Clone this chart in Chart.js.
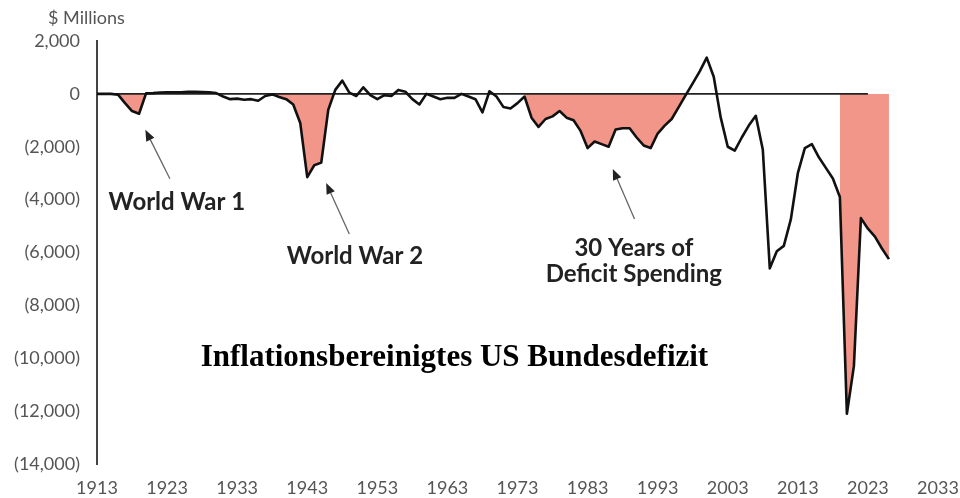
<!DOCTYPE html>
<html>
<head>
<meta charset="utf-8">
<script src="https://cdn.jsdelivr.net/npm/chart.js@4.4.0/dist/chart.umd.min.js"></script>
<style>
    html, body { margin: 0; padding: 0; background: #fff; }
</style>
</head>
<body>
<canvas id="deficitChart" width="960" height="498"></canvas>
<script>
// inflation adjusted federal deficit, $ millions, one value per year from 1913
var startYear = 1913;
var deficit = [
    0, 0, 0, -30, -350, -650, -750, 20, 30, 50,               // 1913-1922
    60, 60, 60, 80, 80, 70, 60, 30, -100, -200,               // 1923-1932
    -180, -220, -200, -260, -80, -20, -120, -200, -400, -1100, // 1933-1942
    -3150, -2700, -2600, -600, 150, 500, 50, -80, 250, -50,   // 1943-1952
    -200, -50, -80, 150, 80, -200, -400, 0, -100, -200,       // 1953-1962
    -150, -150, 0, -100, -200, -700, 100, -100, -500, -550,   // 1963-1972
    -350, -100, -900, -1250, -950, -850, -650, -900, -1000, -1400, // 1973-1982
    -2050, -1800, -1900, -2000, -1350, -1300, -1300, -1650, -1950, -2050, // 1983-1992
    -1500, -1200, -950, -500, -50, 400, 850, 1370, 650, -900, // 1993-2002
    -2000, -2150, -1650, -1200, -830, -2100, -6600, -5950, -5750, -4750, // 2003-2012
    -3000, -2050, -1900, -2400, -2800, -3200, -3900, -12100, -10300, -4700, // 2013-2022
    -5100, -5400, -5850, -6250                                // 2023-2026
];
var years = deficit.map(function (v, i) { return startYear + i; });

// shaded periods (first year, last year)
var shadedPeriods = [[1916, 1920], [1938, 1948], [1974, 1998], [2019, 2026]];

// axis ticks
var xTicks = [1913, 1923, 1933, 1943, 1953, 1963, 1973, 1983, 1993, 2003, 2013, 2023, 2033];
var yMin = -14000, yMax = 2000, yStep = 2000;
var zeroLineEnd = 2023;

var pink = '#f3968a';

// texts and arrows, placed in data units (year, $ millions)
var notes = [
    { lines: ['World War 1'], x: 1924.4, y: -4390 },
    { lines: ['World War 2'], x: 1949.8, y: -6420 },
    { lines: ['30 Years of', 'Deficit Spending'], x: 1989.6, y: -6130 }
];
var arrows = [
    { from: [1923.4, -3210], to: [1919.9, -1360] },
    { from: [1949.0, -5300], to: [1945.7, -3370] },
    { from: [1989.7, -4730], to: [1986.6, -2840] }
];

function toPoints(fromYear, toYear) {
    var pts = [];
    years.forEach(function (yr, i) {
        if (yr >= fromYear && yr <= toYear) {
            pts.push({ x: yr, y: deficit[i] });
        }
    });
    return pts;
}

function formatMillions(v) {
    var s = Math.abs(v).toLocaleString('en-US');
    return v < 0 ? '(' + s + ')' : s;
}

var datasets = [];
// the deficit curve on top
datasets.push({
    data: toPoints(startYear, 2100),
    borderColor: '#111',
    borderWidth: 2.6,
    pointRadius: 0,
    borderJoinStyle: 'round',
    fill: false,
    order: 0
});
// zero line
datasets.push({
    data: [{ x: startYear, y: 0 }, { x: zeroLineEnd, y: 0 }],
    borderColor: '#222',
    borderWidth: 1.6,
    pointRadius: 0,
    fill: false,
    order: 1
});
// shaded deficit periods, only below zero
shadedPeriods.forEach(function (p) {
    datasets.push({
        data: toPoints(p[0], p[1]),
        borderWidth: 0,
        borderColor: 'rgba(0,0,0,0)',
        pointRadius: 0,
        fill: { target: 'origin', above: 'rgba(0,0,0,0)', below: pink },
        order: 2
    });
});

var notesPlugin = {
    id: 'notes',
    afterDraw: function (chart) {
        var ctx = chart.ctx;
        var xs = chart.scales.x, ys = chart.scales.y;
        ctx.save();

        // unit label
        ctx.fillStyle = '#555';
        ctx.font = '18px Lato';
        ctx.textAlign = 'left';
        ctx.textBaseline = 'middle';
        ctx.fillText('$ Millions', 48, 18);

        // arrows
        arrows.forEach(function (a) {
            var x1 = xs.getPixelForValue(a.from[0]), y1 = ys.getPixelForValue(a.from[1]);
            var x2 = xs.getPixelForValue(a.to[0]), y2 = ys.getPixelForValue(a.to[1]);
            var ang = Math.atan2(y2 - y1, x2 - x1);
            var headLen = 11, headW = 4.5;
            ctx.strokeStyle = '#666';
            ctx.lineWidth = 1.3;
            ctx.beginPath();
            ctx.moveTo(x1, y1);
            ctx.lineTo(x2 - Math.cos(ang) * headLen, y2 - Math.sin(ang) * headLen);
            ctx.stroke();
            ctx.fillStyle = '#222';
            ctx.beginPath();
            ctx.moveTo(x2, y2);
            ctx.lineTo(x2 - Math.cos(ang) * headLen - Math.sin(ang) * headW, y2 - Math.sin(ang) * headLen + Math.cos(ang) * headW);
            ctx.lineTo(x2 - Math.cos(ang) * headLen + Math.sin(ang) * headW, y2 - Math.sin(ang) * headLen - Math.cos(ang) * headW);
            ctx.closePath();
            ctx.fill();
        });

        // annotation texts
        ctx.fillStyle = '#222';
        ctx.font = 'bold 24px Lato';
        ctx.textAlign = 'center';
        ctx.textBaseline = 'alphabetic';
        notes.forEach(function (n) {
            var px = xs.getPixelForValue(n.x), py = ys.getPixelForValue(n.y);
            n.lines.forEach(function (line, k) {
                ctx.fillText(line, px, py + k * 26);
            });
        });

        // chart title
        ctx.fillStyle = '#000';
        ctx.font = 'bold 31px "Liberation Serif"';
        ctx.textBaseline = 'middle';
        ctx.fillText('Inflationsbereinigtes US Bundesdefizit', xs.getPixelForValue(1964), ys.getPixelForValue(-10000));

        ctx.restore();
    }
};

Chart.defaults.font.family = 'Lato';

var ctx = document.getElementById('deficitChart').getContext('2d');
var deficitChart = new Chart(ctx, {
    type: 'line',
    data: { datasets: datasets },
    options: {
        responsive: false,
        animation: false,
        devicePixelRatio: 1,
        layout: { padding: { left: 0, top: 41, right: 22, bottom: 0 } },
        plugins: {
            legend: { display: false },
            tooltip: { enabled: false }
        },
        scales: {
            x: {
                type: 'linear',
                min: xTicks[0],
                max: xTicks[xTicks.length - 1],
                // tick marks hidden, their length only sets the gap above the labels
                grid: { display: false, drawTicks: true, tickLength: 13 },
                border: { display: false },
                afterBuildTicks: function (scale) {
                    scale.ticks = xTicks.map(function (v) { return { value: v }; });
                },
                afterFit: function (scale) { scale.height = 34; },
                ticks: {
                    color: '#555',
                    font: { size: 18 },
                    padding: 0,
                    maxRotation: 0,
                    autoSkip: false,
                    callback: function (v) { return String(v); }
                }
            },
            y: {
                min: yMin,
                max: yMax,
                grid: { display: false, drawTicks: false },
                border: { display: true, color: '#444', width: 2 },
                afterFit: function (scale) { scale.width = 97; },
                ticks: {
                    stepSize: yStep,
                    color: '#555',
                    font: { size: 18 },
                    padding: 17,
                    callback: function (v) { return formatMillions(v); }
                }
            }
        }
    },
    plugins: [notesPlugin]
});
</script>
</body>
</html>
